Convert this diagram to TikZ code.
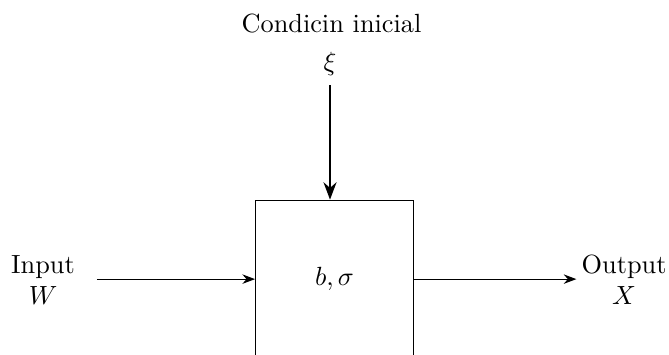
\documentclass[tikz,border=0pt]{standalone}
\usepackage{tikz}
\usetikzlibrary{arrows.meta, positioning}

\begin{document}
\begin{tikzpicture}[
    flow/.style={-{Stealth}},
    cond/.style={-{Stealth}, thick},
    block/.style={draw, minimum width=2.11cm, minimum height=2.11cm},
    label/.style={font=\normalsize, align=center}
]
\useasboundingbox (0,0) rectangle (8.94,-4.74);

% System block
\node[block] (sys) at (4.47,-3.73) {$b,\sigma$};

% Initial condition
\node[label] (cond) at (4.43,-0.32) {Condicin inicial};
\node[label] (xi) at (4.41,-0.86) {$\xi$};
\draw[cond] (xi.south) -- (xi.south |- sys.north);

% Input and output
\node[label] (in) at (0.575,-3.74) {Input\\$W$};
\node[label] (out) at (8.34,-3.74) {Output\\$X$};
\draw[flow, shorten <=0.17cm] (in.east |- sys.west) -- (sys.west);
\draw[flow, shorten >=-1.5pt] (sys.east) -- (out.west |- sys.east);

\end{tikzpicture}
\end{document}
